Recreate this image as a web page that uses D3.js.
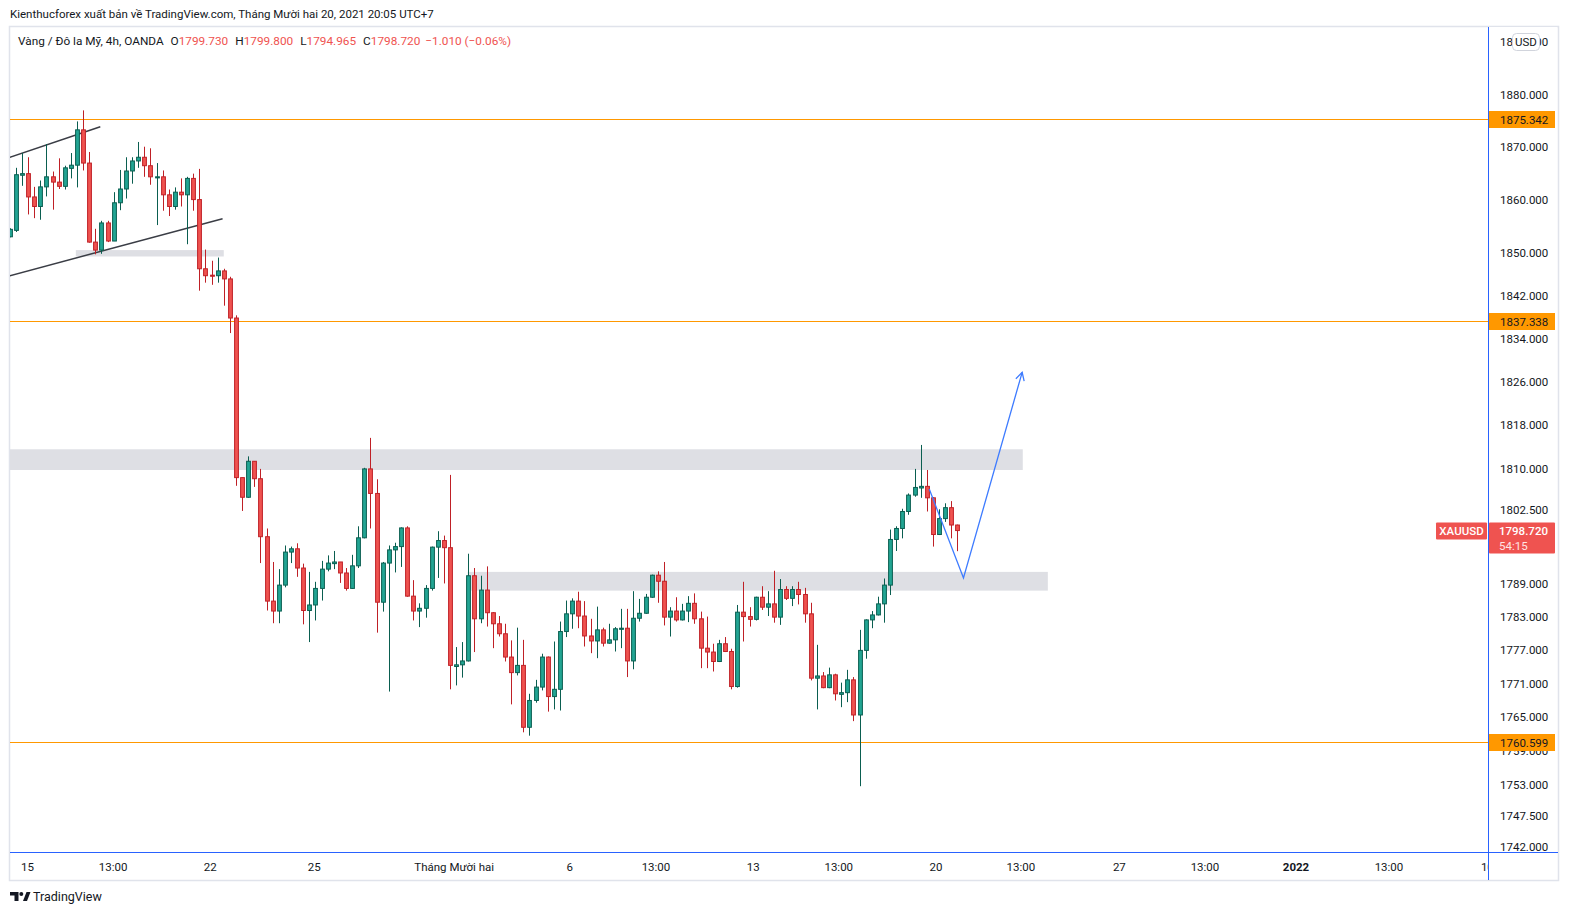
<!DOCTYPE html>
<html>
<head>
<meta charset="utf-8">
<script src="https://cdn.jsdelivr.net/npm/d3@7"></script>
<style>
  body { margin: 0; background: #fff; }
  svg { display: block; font-family: Roboto, "Noto Sans", sans-serif; }
</style>
</head>
<body>
<svg id="svg" width="1571" height="916"></svg>
<script>
// --- DATA ---
// 4h candles, XAUUSD (OANDA), [open, high, low, close]
const ohlc = [
  [1853.1,1854.7,1853.0,1854.5],[1854.3,1866.1,1854.0,1864.8],[1864.7,1868.9,1862.7,1865.0],[1865.0,1868.1,1857.3,1860.6],
  [1860.6,1862.5,1856.6,1858.8],[1858.8,1863.7,1856.3,1862.5],[1862.5,1870.6,1860.7,1864.4],[1864.4,1865.4,1858.2,1863.4],
  [1863.4,1867.9,1862.1,1862.6],[1862.6,1866.5,1862.0,1866.1],[1866.0,1868.9,1864.1,1866.6],[1866.6,1874.9,1862.4,1873.3],
  [1873.3,1877.0,1865.6,1867.0],[1867.0,1869.1,1852.0,1852.1],[1852.1,1854.6,1849.8,1850.6],[1850.6,1856.1,1849.9,1855.7],
  [1855.7,1856.1,1852.1,1852.3],[1852.3,1861.5,1852.3,1859.5],[1859.5,1865.7,1858.1,1862.1],[1862.1,1868.1,1860.3,1865.5],
  [1865.5,1868.1,1863.1,1867.4],[1867.4,1871.0,1866.1,1868.1],[1868.1,1870.1,1864.4,1866.5],[1866.5,1869.8,1862.9,1864.4],
  [1864.2,1867.0,1855.3,1864.4],[1864.4,1865.6,1858.0,1861.0],[1861.0,1862.0,1857.0,1858.8],[1858.8,1862.4,1858.2,1861.5],
  [1861.5,1864.1,1858.8,1861.0],[1861.0,1864.4,1851.7,1864.1],[1864.1,1865.0,1858.0,1860.1],[1860.1,1865.9,1843.0,1847.1],
  [1847.1,1850.7,1844.5,1845.8],[1845.9,1848.6,1844.1,1845.7],[1845.8,1849.2,1844.5,1846.7],[1846.7,1847.1,1840.2,1845.2],
  [1845.2,1845.6,1835.1,1837.9],[1837.9,1838.4,1806.9,1808.4],[1808.4,1808.4,1802.3,1804.8],[1804.8,1812.3,1804.7,1811.4],
  [1811.4,1811.4,1806.7,1808.2],[1808.2,1810.0,1792.8,1797.6],[1797.6,1799.1,1784.2,1785.9],[1785.9,1793.0,1781.9,1784.1],
  [1784.1,1791.7,1781.9,1788.8],[1788.8,1796.0,1788.4,1794.8],[1794.8,1795.8,1792.8,1795.4],[1795.4,1796.4,1790.3,1791.9],
  [1791.9,1792.7,1781.7,1784.2],[1784.2,1791.2,1778.5,1785.2],[1785.2,1789.4,1782.4,1788.2],[1788.2,1793.2,1786.0,1791.7],
  [1791.7,1794.2,1791.3,1792.8],[1792.7,1795.0,1791.7,1793.0],[1793.0,1793.0,1789.2,1791.0],[1791.0,1791.9,1787.8,1788.2],
  [1788.2,1794.3,1788.1,1792.3],[1792.3,1799.5,1791.9,1797.4],[1797.4,1810.2,1797.3,1810.0],[1810.0,1815.7,1799.1,1805.5],
  [1805.5,1808.1,1780.2,1785.7],[1785.7,1793.0,1784.0,1792.8],[1792.8,1796.0,1769.6,1795.2],[1795.2,1796.5,1791.1,1795.8],
  [1795.8,1799.3,1792.1,1799.2],[1799.2,1799.5,1786.7,1786.8],[1786.8,1789.7,1782.4,1784.1],[1784.1,1785.5,1781.2,1784.6],
  [1784.6,1788.8,1782.9,1788.2],[1788.2,1795.8,1787.8,1795.7],[1795.7,1798.6,1790.1,1796.9],[1796.9,1797.8,1789.1,1795.6],
  [1795.6,1808.9,1770.0,1774.3],[1774.1,1777.6,1770.7,1774.4],[1774.4,1778.5,1772.1,1775.1],[1775.1,1794.5,1775.0,1790.5],
  [1790.5,1791.9,1776.7,1782.7],[1782.7,1790.5,1781.9,1787.9],[1787.9,1792.2,1781.3,1783.8],[1783.8,1783.9,1777.4,1781.8],
  [1781.8,1783.2,1779.5,1780.0],[1780.0,1781.8,1775.0,1775.8],[1775.8,1778.8,1767.3,1773.0],[1773.0,1781.1,1772.5,1774.3],
  [1774.3,1778.9,1762.3,1763.2],[1763.2,1769.2,1761.7,1768.0],[1768.0,1771.7,1767.6,1770.4],[1770.4,1776.4,1769.8,1775.8],
  [1775.8,1775.9,1766.0,1768.7],[1768.7,1778.6,1766.4,1770.0],[1770.0,1782.2,1766.2,1780.4],[1780.4,1786.0,1779.4,1783.6],
  [1783.6,1786.4,1780.9,1785.9],[1785.9,1787.6,1781.0,1783.2],[1783.2,1785.9,1777.7,1779.6],[1779.6,1782.7,1776.5,1778.7],
  [1778.7,1784.9,1775.6,1780.7],[1780.7,1781.1,1777.7,1778.3],[1778.3,1781.8,1778.2,1778.9],[1778.9,1781.2,1776.8,1780.9],
  [1780.8,1784.5,1777.4,1781.0],[1781.0,1784.5,1772.2,1775.1],[1775.1,1787.7,1773.6,1782.8],[1782.8,1786.3,1782.2,1783.7],
  [1783.7,1787.2,1783.6,1786.6],[1786.6,1790.7,1786.5,1790.6],[1790.6,1791.3,1785.6,1789.5],[1789.5,1793.0,1781.5,1783.0],
  [1783.0,1784.8,1779.5,1784.1],[1784.1,1786.6,1782.2,1782.5],[1782.5,1785.4,1782.4,1784.1],[1784.1,1786.8,1782.1,1785.5],
  [1785.5,1787.3,1781.8,1782.7],[1782.7,1784.0,1773.8,1777.4],[1777.4,1783.1,1773.8,1776.7],[1776.7,1778.2,1773.2,1775.0],
  [1775.0,1778.9,1774.9,1778.2],[1778.2,1779.4,1776.7,1776.8],[1776.8,1777.3,1770.0,1770.5],[1770.5,1785.2,1770.3,1783.9],
  [1783.9,1789.4,1778.6,1783.1],[1783.1,1784.8,1781.3,1782.6],[1782.6,1786.7,1782.4,1786.6],[1786.6,1788.6,1784.3,1784.8],
  [1784.8,1787.7,1783.2,1785.4],[1785.4,1791.4,1782.0,1783.0],[1783.0,1789.9,1781.6,1788.0],[1788.0,1788.6,1786.1,1786.4],
  [1786.4,1788.6,1785.0,1788.0],[1788.0,1789.4,1785.3,1787.1],[1787.1,1788.3,1782.0,1783.6],[1783.6,1785.6,1771.6,1772.0],
  [1772.0,1778.0,1766.4,1772.4],[1772.4,1773.1,1770.2,1770.3],[1770.3,1773.9,1770.2,1772.6],[1772.6,1772.8,1768.0,1769.2],
  [1769.1,1771.2,1766.8,1769.4],[1769.4,1773.5,1767.7,1771.7],[1771.7,1772.2,1764.3,1765.4],[1765.4,1780.7,1752.7,1777.0],
  [1777.0,1782.6,1775.5,1782.5],[1782.5,1784.1,1781.0,1783.4],[1783.4,1786.7,1783.3,1785.4],[1785.4,1790.0,1782.0,1788.8],
  [1788.8,1798.9,1787.0,1797.1],[1797.1,1799.5,1795.0,1799.1],[1799.1,1802.7,1797.3,1802.2],[1802.2,1805.5,1801.6,1805.2],
  [1805.2,1810.0,1804.9,1806.6],[1806.5,1814.4,1804.7,1806.8],[1806.8,1809.8,1802.2,1804.7],[1804.7,1804.8,1795.8,1798.0],
  [1798.0,1802.6,1797.9,1800.9],[1800.9,1803.7,1800.3,1802.9],[1802.9,1804.1,1797.3,1799.73],[1799.73,1799.8,1794.965,1798.72]
];

const priceTicks = [1742, 1747.5, 1753, 1759, 1765, 1771, 1777, 1783, 1789, 1796, 1802.5,
                    1810, 1818, 1826, 1834, 1842, 1850, 1860, 1870, 1880, 1890];

const timeLabels = ["15", "13:00", "22", "25", "Tháng Mười hai", "6", "13:00", "13", "13:00",
                    "20", "13:00", "27", "13:00", "2022", "13:00", "10"];
const timeTickBars = [2.9, 16.9, 32.8, 49.8, 72.7, 91.6, 105.7, 121.6, 135.6, 151.5, 165.4,
                      181.5, 195.5, 210.4, 225.6, 241.7];

// horizontal levels (orange)
const levels = [1875.342, 1837.338, 1760.599];

// grey zones: [fromBar, toBar, lowPrice, highPrice]
const zones = [
  [10.8, 35.0, 1849.4, 1850.6],
  [-1, 165.7, 1809.8, 1813.6],
  [74.9, 169.8, 1787.8, 1791.2]
];

// trend lines: [bar0, price0, bar1, price1]
const trendLines = [
  [0, 1868.1, 14.8, 1873.9],
  [0, 1845.8, 34.8, 1856.5]
];

// projected path (blue): [bar, price]
const projection = [[150.4, 1806.3], [156.0, 1790.1], [165.6, 1827.8]];

const lastPrice = 1798.720;
const header = "Kienthucforex xuất bản về TradingView.com, Tháng Mười hai 20, 2021 20:05 UTC+7";

// --- LAYOUT ---
const PLOT_L = 10, PLOT_R = 1488, PLOT_T = 27, PLOT_B = 852, FRAME_R = 1558, FRAME_B = 880;
const UP = "#22a593", UP_LINE = "#0a5e50", DN = "#ef5350", DN_LINE = "#bf2026";
const BLUE = "#2962ff";

const svg = d3.select("#svg");
const x = d3.scaleLinear().domain([0, 241.8]).range([9.8, PLOT_R]);
const y = d3.scaleLog().domain([1742, 1890]).range([846.6, 42.3]);

// header
svg.append("text").attr("x", 10).attr("y", 18).attr("font-size", 11.5).attr("fill", "#131722").text(header);

// frame
svg.append("rect").attr("x", PLOT_L - 0.5).attr("y", PLOT_T - 0.5)
  .attr("width", FRAME_R - PLOT_L + 1).attr("height", FRAME_B - PLOT_T + 1)
  .attr("fill", "#fff").attr("stroke", "#e0e3eb").attr("stroke-width", 1.5);

const plot = svg.append("g");
plot.append("clipPath").attr("id", "clip").append("rect")
  .attr("x", PLOT_L).attr("y", PLOT_T).attr("width", PLOT_R - PLOT_L).attr("height", PLOT_B - PLOT_T);
const g = plot.append("g").attr("clip-path", "url(#clip)");

// zones
g.selectAll(".zone").data(zones).join("rect")
  .attr("x", d => x(d[0])).attr("width", d => x(d[1]) - x(d[0]))
  .attr("y", d => y(d[3])).attr("height", d => y(d[2]) - y(d[3]))
  .attr("fill", "#dedfe4");

// orange levels
g.selectAll(".level").data(levels).join("line")
  .attr("x1", PLOT_L).attr("x2", PLOT_R)
  .attr("y1", d => Math.round(y(d)) + 0.5).attr("y2", d => Math.round(y(d)) + 0.5)
  .attr("stroke", "#ff9800").attr("stroke-width", 1);

// trend lines
g.selectAll(".trend").data(trendLines).join("line")
  .attr("x1", d => x(d[0])).attr("y1", d => y(d[1]))
  .attr("x2", d => x(d[2])).attr("y2", d => y(d[3]))
  .attr("stroke", "#3a3d45").attr("stroke-width", 1.5);

// candles
const candles = g.selectAll(".candle").data(ohlc).join("g");
candles.append("line")
  .attr("x1", (d, i) => Math.round(x(i)) + 0.5).attr("x2", (d, i) => Math.round(x(i)) + 0.5)
  .attr("y1", d => y(d[1])).attr("y2", d => y(d[2]))
  .attr("stroke", d => d[3] >= d[0] ? UP_LINE : DN_LINE).attr("stroke-width", 1);
candles.append("rect")
  .attr("x", (d, i) => Math.round(x(i)) + 0.5 - 1.9).attr("width", 3.8)
  .attr("y", d => y(Math.max(d[0], d[3])))
  .attr("height", d => Math.max(0.8, Math.abs(y(d[0]) - y(d[3]))))
  .attr("fill", d => d[3] >= d[0] ? UP : DN)
  .attr("stroke", d => d[3] >= d[0] ? UP_LINE : DN_LINE).attr("stroke-width", 1);

// projection arrow
const pts = projection.map(p => [x(p[0]), y(p[1])]);
g.append("path").attr("d", d3.line()(pts))
  .attr("fill", "none").attr("stroke", "#3d7bff").attr("stroke-width", 1.3);
const [pa, pb] = pts.slice(-2);
const ang = Math.atan2(pb[1] - pa[1], pb[0] - pa[0]);
const barb = a => [pb[0] - 9 * Math.cos(ang + a), pb[1] - 9 * Math.sin(ang + a)];
g.append("path").attr("d", d3.line()([barb(0.5), pb, barb(-0.5)]))
  .attr("fill", "none").attr("stroke", "#3d7bff").attr("stroke-width", 1.3);

// time axis
svg.selectAll(".tlab").data(timeLabels).join("text")
  .attr("x", (d, i) => x(timeTickBars[i])).attr("y", 871)
  .attr("text-anchor", "middle").attr("font-size", 11.5)
  .attr("font-weight", d => d === "2022" ? "bold" : "normal")
  .attr("fill", "#131722").text(d => d);

// price axis background
svg.append("rect").attr("x", PLOT_R + 0.5).attr("y", PLOT_T)
  .attr("width", FRAME_R - PLOT_R - 1.5).attr("height", FRAME_B - PLOT_T - 1).attr("fill", "#fff");

svg.selectAll(".plab").data(priceTicks).join("text")
  .attr("x", 1500).attr("y", d => y(d)).attr("dy", "0.35em")
  .attr("font-size", 11.5).attr("fill", "#131722")
  .text(d => d.toFixed(3));

// level labels
const lv = svg.selectAll(".lvl").data(levels).join("g")
  .attr("transform", d => `translate(${PLOT_R + 1},${Math.round(y(d)) + 0.5})`);
lv.append("rect").attr("x", 0).attr("y", -8.5).attr("width", 66).attr("height", 17).attr("fill", "#ff9800");
lv.append("text").attr("x", 11).attr("dy", "0.36em").attr("font-size", 11.5).attr("fill", "#131722")
  .text(d => d.toFixed(3));

// last price labels
const ly = y(lastPrice);
svg.append("rect").attr("x", PLOT_R + 1).attr("y", ly - 8).attr("width", 66).attr("height", 31)
  .attr("rx", 1).attr("fill", DN);
svg.append("text").attr("x", PLOT_R + 11).attr("y", ly).attr("dy", "0.36em")
  .attr("font-size", 11.5).attr("font-weight", 500).attr("fill", "#fff").text(lastPrice.toFixed(3));
svg.append("text").attr("x", PLOT_R + 11).attr("y", ly + 15).attr("dy", "0.36em")
  .attr("font-size", 11.5).attr("fill", "#ffe3e3").text("54:15");
svg.append("rect").attr("x", 1436).attr("y", ly - 8).attr("width", 51).attr("height", 17)
  .attr("rx", 1).attr("fill", DN);
svg.append("text").attr("x", 1461.5).attr("y", ly).attr("dy", "0.36em").attr("text-anchor", "middle")
  .attr("font-size", 11.5).attr("font-weight", 500).attr("fill", "#fff").text("XAUUSD");

// currency badge
svg.append("rect").attr("x", 1512.5).attr("y", 33.5).attr("width", 27).attr("height", 17).attr("rx", 4)
  .attr("fill", "#fff").attr("stroke", "#d1d4dc");
svg.append("text").attr("x", 1526).attr("y", 42).attr("dy", "0.36em").attr("text-anchor", "middle")
  .attr("font-size", 11.5).attr("fill", "#131722").text("USD");

// blue pane borders
svg.append("line").attr("x1", PLOT_L).attr("x2", FRAME_R).attr("y1", PLOT_B + 0.5).attr("y2", PLOT_B + 0.5)
  .attr("stroke", BLUE).attr("stroke-width", 1);
svg.append("line").attr("x1", PLOT_R + 0.5).attr("x2", PLOT_R + 0.5).attr("y1", PLOT_T).attr("y2", FRAME_B)
  .attr("stroke", BLUE).attr("stroke-width", 1);

// legend line
const last = ohlc[ohlc.length - 1];
const legend = svg.append("text").attr("x", 18).attr("y", 45).attr("font-size", 11.8).attr("fill", "#131722");
legend.append("tspan").text("Vàng / Đô la Mỹ, 4h, OANDA");
[["O", last[0]], ["H", last[1]], ["L", last[2]], ["C", last[3]]].forEach(([k, v]) => {
  legend.append("tspan").attr("dx", 7).text(k);
  legend.append("tspan").attr("fill", DN).text(v.toFixed(3));
});
const chg = last[3] - last[0];
legend.append("tspan").attr("dx", 5).attr("fill", DN)
  .text(`\u2212${Math.abs(chg).toFixed(3)} (\u2212${Math.abs(chg / last[0] * 100).toFixed(2)}%)`);

// footer logo
const logo = svg.append("g").attr("fill", "#131722");
logo.append("path").attr("d", "M10,892 h8.5 v9 h-4 v-5.5 h-4.5 z");
logo.append("circle").attr("cx", 21.3).attr("cy", 894).attr("r", 2);
logo.append("path").attr("d", "M23,901 L26.5,892 L30.5,892 L27,901 z");
svg.append("text").attr("x", 33).attr("y", 901).attr("font-size", 12.5).attr("fill", "#131722").text("TradingView");
</script>
</body>
</html>
